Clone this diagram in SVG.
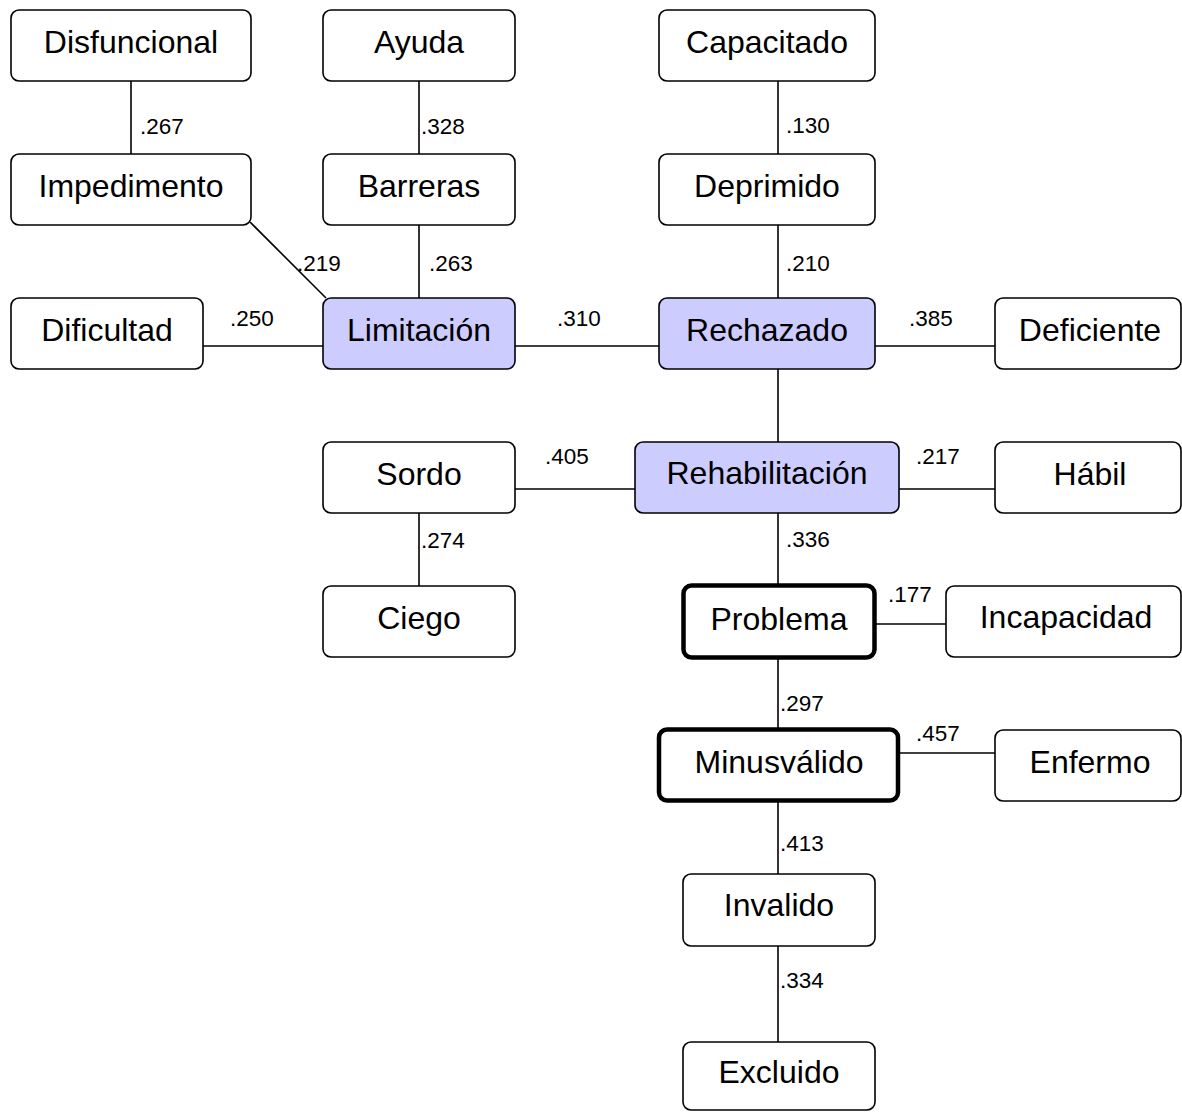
<svg xmlns="http://www.w3.org/2000/svg" width="1182" height="1112" viewBox="0 0 1182 1112">
<style>
.n rect{fill:#fff;stroke:#000;stroke-width:1.6}
.n.h rect{fill:#ccccff}
.n.b rect{stroke-width:4.5}
.n text{font-family:"Liberation Sans",Arial,sans-serif;font-size:32px;text-anchor:middle;fill:#000}
.c line{stroke:#000;stroke-width:1.6}
.l text{font-family:"Liberation Sans",Arial,sans-serif;font-size:22.5px;fill:#000}
</style>
<rect width="1182" height="1112" fill="#fff"/>
<g class="c">
<line x1="131" y1="81" x2="131" y2="154"/>
<line x1="419" y1="81" x2="419" y2="154"/>
<line x1="778" y1="81" x2="778" y2="154"/>
<line x1="419" y1="225" x2="419" y2="298"/>
<line x1="778" y1="225" x2="778" y2="298"/>
<line x1="250" y1="222" x2="326" y2="298"/>
<line x1="203" y1="346" x2="323" y2="346"/>
<line x1="515" y1="346" x2="659" y2="346"/>
<line x1="875" y1="346" x2="995" y2="346"/>
<line x1="778" y1="369" x2="778" y2="442"/>
<line x1="515" y1="489" x2="635" y2="489"/>
<line x1="899" y1="489" x2="995" y2="489"/>
<line x1="419" y1="513" x2="419" y2="586"/>
<line x1="778" y1="513" x2="778" y2="586"/>
<line x1="875" y1="624" x2="946" y2="624"/>
<line x1="778" y1="657" x2="778" y2="730"/>
<line x1="899" y1="753" x2="995" y2="753"/>
<line x1="778" y1="801" x2="778" y2="874"/>
<line x1="778" y1="946" x2="778" y2="1042"/>
</g>
<g class="l">
<text x="140" y="134">.267</text>
<text x="421" y="134">.328</text>
<text x="786" y="133">.130</text>
<text x="297" y="271">.219</text>
<text x="429" y="271">.263</text>
<text x="786" y="271">.210</text>
<text x="230" y="326">.250</text>
<text x="557" y="326">.310</text>
<text x="909" y="326">.385</text>
<text x="545" y="464">.405</text>
<text x="916" y="464">.217</text>
<text x="421" y="548">.274</text>
<text x="786" y="547">.336</text>
<text x="888" y="602">.177</text>
<text x="780" y="711">.297</text>
<text x="916" y="741">.457</text>
<text x="780" y="851">.413</text>
<text x="780" y="988">.334</text>
</g>
<g id="disfuncional" class="n"><rect x="11" y="10" width="240" height="71" rx="8"/><text x="131" y="53">Disfuncional</text></g>
<g id="ayuda" class="n"><rect x="323" y="10" width="192" height="71" rx="8"/><text x="419" y="53">Ayuda</text></g>
<g id="capacitado" class="n"><rect x="659" y="10" width="216" height="71" rx="8"/><text x="767" y="53">Capacitado</text></g>
<g id="impedimento" class="n"><rect x="11" y="154" width="240" height="71" rx="8"/><text x="131" y="197">Impedimento</text></g>
<g id="barreras" class="n"><rect x="323" y="154" width="192" height="71" rx="8"/><text x="419" y="197">Barreras</text></g>
<g id="deprimido" class="n"><rect x="659" y="154" width="216" height="71" rx="8"/><text x="767" y="197">Deprimido</text></g>
<g id="dificultad" class="n"><rect x="11" y="298" width="192" height="71" rx="8"/><text x="107" y="341">Dificultad</text></g>
<g id="limitacion" class="n h"><rect x="323" y="298" width="192" height="71" rx="8"/><text x="419" y="341">Limitación</text></g>
<g id="rechazado" class="n h"><rect x="659" y="298" width="216" height="71" rx="8"/><text x="767" y="341">Rechazado</text></g>
<g id="deficiente" class="n"><rect x="995" y="298" width="186" height="71" rx="8"/><text x="1090" y="341">Deficiente</text></g>
<g id="sordo" class="n"><rect x="323" y="442" width="192" height="71" rx="8"/><text x="419" y="485">Sordo</text></g>
<g id="rehabilitacion" class="n h"><rect x="635" y="442" width="264" height="71" rx="8"/><text x="767" y="484">Rehabilitación</text></g>
<g id="habil" class="n"><rect x="995" y="442" width="186" height="71" rx="8"/><text x="1090" y="485">Hábil</text></g>
<g id="ciego" class="n"><rect x="323" y="586" width="192" height="71" rx="8"/><text x="419" y="629">Ciego</text></g>
<g id="problema" class="n b"><rect x="683.5" y="585.5" width="191" height="72" rx="8"/><text x="779" y="630">Problema</text></g>
<g id="incapacidad" class="n"><rect x="946" y="586" width="235" height="71" rx="8"/><text x="1066" y="628">Incapacidad</text></g>
<g id="minusvalido" class="n b"><rect x="659" y="729.5" width="239" height="71" rx="8"/><text x="779" y="773">Minusválido</text></g>
<g id="enfermo" class="n"><rect x="995" y="730" width="186" height="71" rx="8"/><text x="1090" y="773">Enfermo</text></g>
<g id="invalido" class="n"><rect x="683" y="874" width="192" height="72" rx="8"/><text x="779" y="916">Invalido</text></g>
<g id="excluido" class="n"><rect x="683" y="1042" width="192" height="68" rx="8"/><text x="779" y="1083">Excluido</text></g>
</svg>
